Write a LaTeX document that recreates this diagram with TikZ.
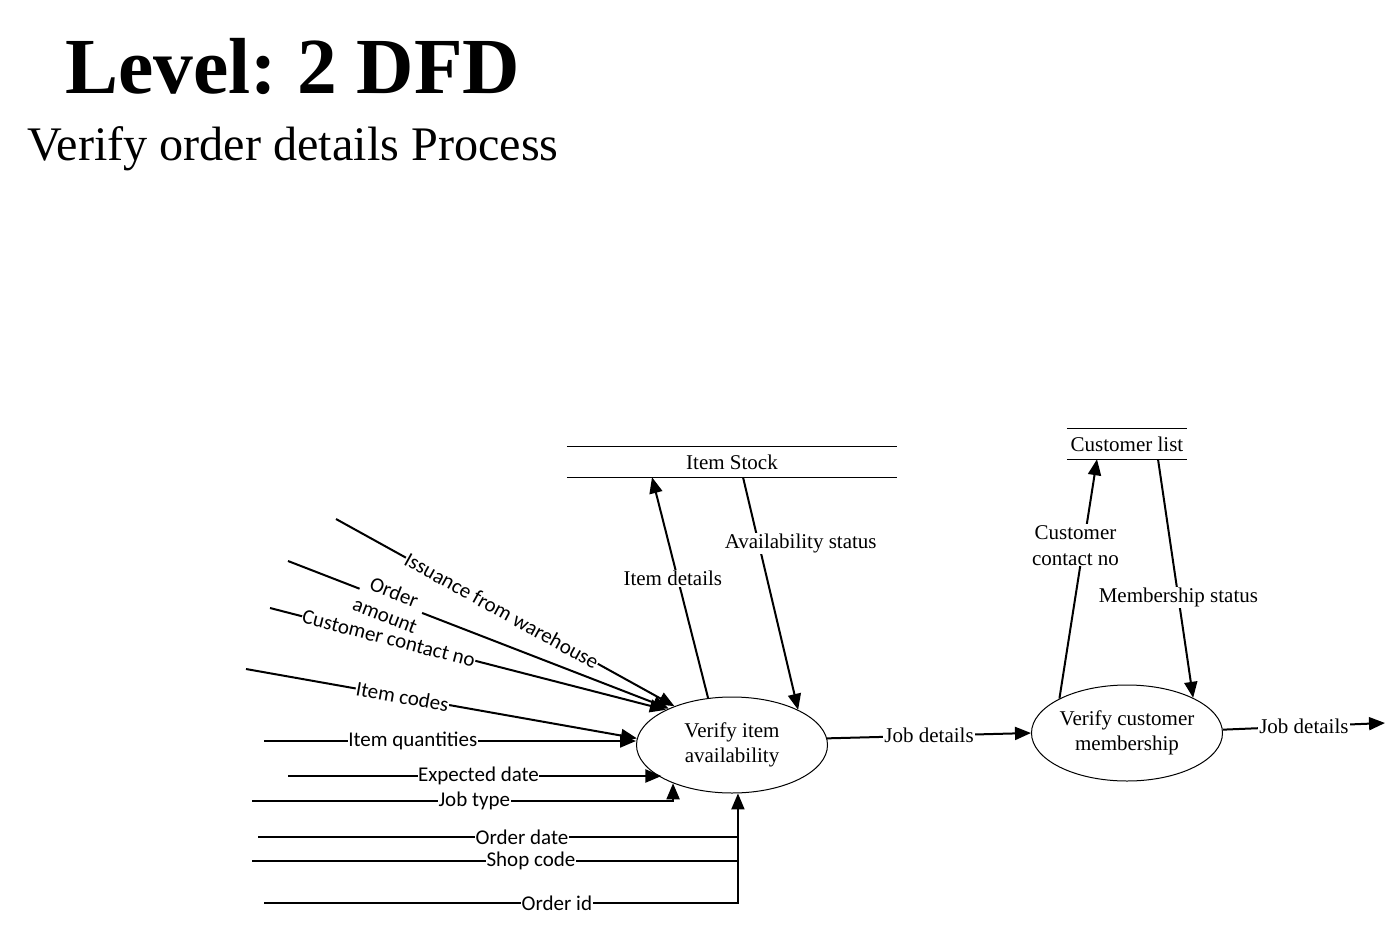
\documentclass[tikz,border=0pt]{standalone}
\usepackage{fontspec}
\setmainfont{Liberation Serif}
\newfontfamily\lblsans{Carlito}
\usetikzlibrary{arrows.meta,calc,shapes.geometric}
\begin{document}
\frenchspacing
\begin{tikzpicture}[x=1pt,y=-1pt,
  flow/.style={line width=2pt,-{Triangle[length=16pt,width=13pt]}},
  plain/.style={line width=2pt},
  proc/.style={ellipse,draw,line width=1pt,minimum width=191pt,minimum height=96pt,inner sep=0pt,align=center,font=\fontsize{21}{25}\selectfont},
  store/.style={minimum width=#1,minimum height=30pt,inner sep=0pt,font=\fontsize{21}{25}\selectfont},
  storeline/.style={line width=1pt},
  slbl/.style={fill=white,inner sep=0.5pt,align=center,font=\lblsans\fontsize{21}{23}\selectfont},
  tlbl/.style={fill=white,inner sep=1pt,align=center,font=\fontsize{21}{26}\selectfont},
]
\useasboundingbox (0,0) rectangle (1386,926);

% titles
\node[anchor=base west,inner sep=0pt,font=\bfseries\fontsize{79.5}{88}\selectfont] (title) at (65,93) {Level: 2 DFD};
\node[anchor=base west,inner sep=0pt,font=\fontsize{48.2}{52}\selectfont] (subtitle) at (27,160) {Verify order details Process};

% processes
\node[proc] (p1) at (732,745) {Verify item\\availability};
\node[proc] (p2) at (1127,733) {Verify customer\\membership};

% data stores
\node[store=330pt] (s1) at (732,462) {Item Stock};
\draw[storeline] (s1.north west) -- (s1.north east);
\draw[storeline] (s1.south west) -- (s1.south east);
\node[store=120pt] (s2) at (1127,444) {Customer list};
\draw[storeline] (s2.north west) -- (s2.north east);
\draw[storeline] (s2.south west) -- (s2.south east);

% free ends
\coordinate (iw) at (336,519);
\coordinate (oa) at (288,561);
\coordinate (cc) at (270,608);
\coordinate (ic) at (246,669);
\coordinate (iq) at (264,741);
\coordinate (ed) at (288,776);
\coordinate (jt) at (252,801);
\coordinate (od) at (258,837);
\coordinate (sc) at (252,861);
\coordinate (oi) at (264,903);
\coordinate (jo) at (1385,723);

% left inputs
\draw[flow] (iw) -- (p1.146) node[slbl,sloped,pos=0.49] {Issuance from warehouse};
\draw[flow] (oa) -- (p1.150) node[slbl,sloped,pos=0.27,inner sep=0pt,font=\lblsans\fontsize{21}{25}\selectfont,yshift=-3pt] {Order\\amount};
\draw[flow] (cc) -- (p1.152) node[slbl,sloped,pos=0.30] {Customer contact no};
\draw[flow] (ic) -- (p1.176) node[slbl,sloped,pos=0.40] {Item codes};
\draw[flow] (iq) -- (iq -| p1.west) node[slbl,pos=0.40] {Item quantities};
\draw[flow] (ed) -- (ed -| p1.205) node[slbl,pos=0.51] {Expected date};
\draw[flow] (jt) -| (p1.213) node[slbl,pos=0.264] {Job type};
\draw[plain] (od) -- (od -| p1.277) node[slbl,pos=0.55] {Order date};
\draw[plain] (sc) -- (sc -| p1.277) node[slbl,pos=0.574] {Shop code};
\draw[flow] (oi) -| (p1.277) node[slbl,pos=0.309] {Order id};

% store flows
\draw[flow] (p1.117) -- ([xshift=-80pt]s1.south) node[tlbl,pos=0.54,xshift=-5pt] {Item details};
\draw[flow] ([xshift=11pt]s1.south) -- (p1.28) node[tlbl,pos=0.285,xshift=42pt] {Availability status};
\draw[flow] (p1.4) -- (p2.west) node[tlbl,pos=0.5] {Job details};
\draw[flow] (p2.153) -- ([xshift=-30pt]s2.south) node[tlbl,pos=0.64,xshift=-8pt] {Customer\\contact no};
\draw[flow] ([xshift=31pt]s2.south) -- (p2.28) node[tlbl,pos=0.58] {Membership status};
\draw[flow] (p2.2) -- (jo) node[tlbl,pos=0.5] {Job details};
\end{tikzpicture}
\end{document}
